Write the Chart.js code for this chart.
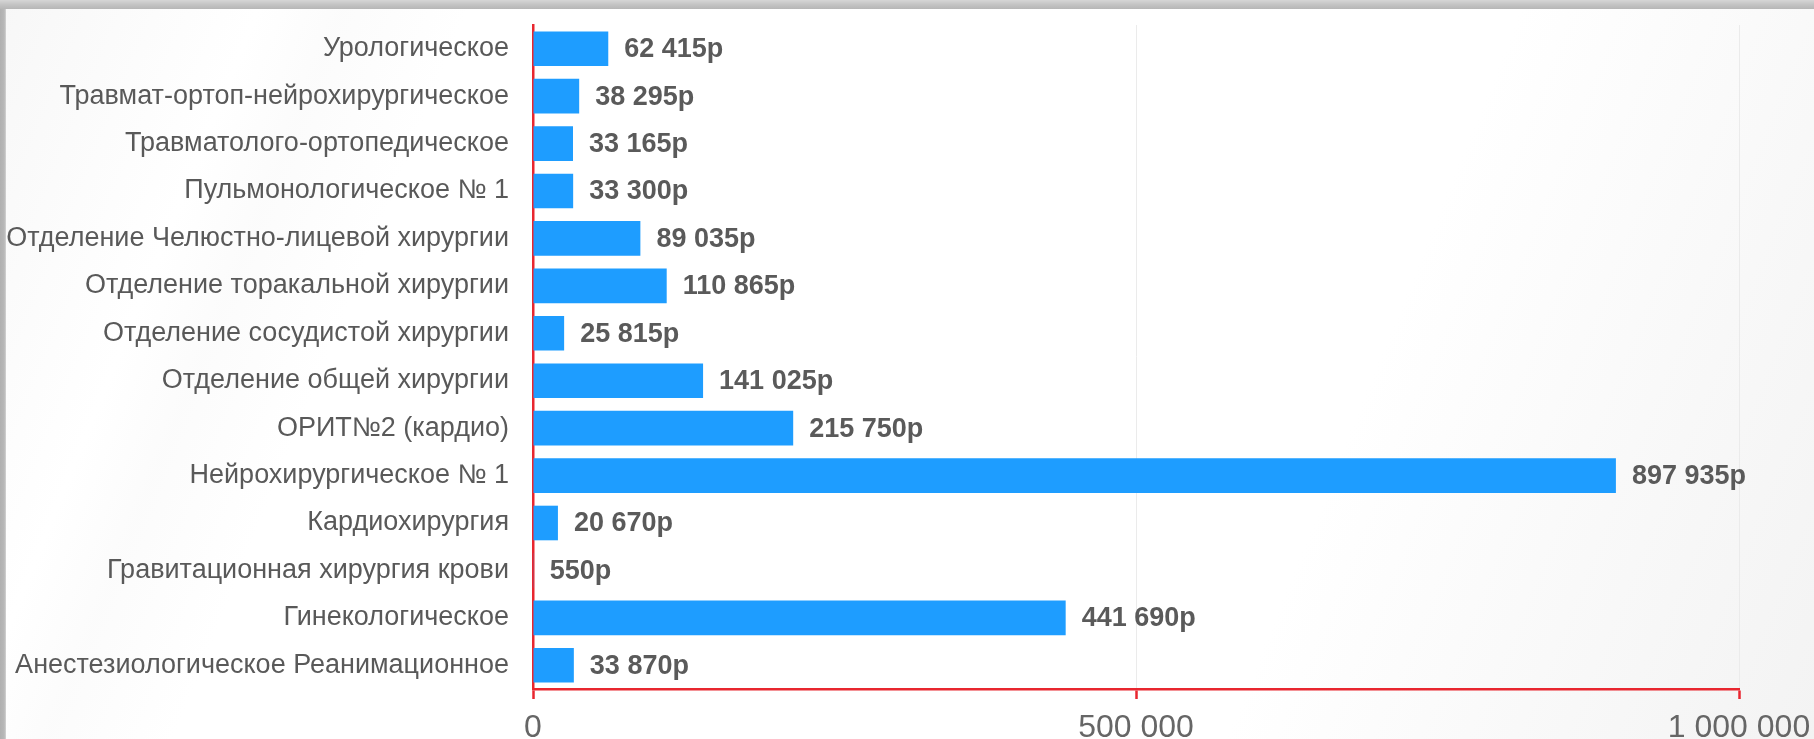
<html><head>
<meta charset="UTF-8">
<title>Отделения</title>
<script src="https://cdn.jsdelivr.net/npm/chart.js"></script>
<style>
html, body {
  margin: 0;
  padding: 0;
  width: 1814px;
  height: 739px;
  overflow: hidden;
  background: #b3b3b3;
}

.topbar {
  position: absolute;
  left: 0;
  top: 0;
  width: 1814px;
  height: 9px;
  background: linear-gradient(180deg, #d6d6d6 0%, #c4c4c4 50%, #b6b6b6 100%);
}

.leftbar {
  position: absolute;
  left: 0;
  top: 9px;
  width: 6px;
  height: 730px;
  background: linear-gradient(90deg, #b0b0b0 0%, #b8b8b8 70%, #d4d4d4 100%);
}

.panel {
  position: absolute;
  left: 6px;
  top: 9px;
  width: 1808px;
  height: 730px;
  background:
    linear-gradient(112deg, rgba(240,240,240,0.5) 0%, rgba(255,255,255,0) 12%, rgba(248,248,248,0.5) 16%, rgba(255,255,255,0) 22%),
    linear-gradient(112deg, #ffffff 0%, #ffffff 72%, #f8f8f8 88%, #f3f3f3 100%);
}

#chart {
  position: absolute;
  left: 0;
  top: 0;
}
</style>
</head>
<body>

<div class="topbar"></div>
<div class="leftbar"></div>
<div class="panel"></div>
<canvas id="chart" width="1814" height="739"></canvas>

<script>
const departments = [
  "Урологическое",
  "Травмат-ортоп-нейрохирургическое",
  "Травматолого-ортопедическое",
  "Пульмонологическое № 1",
  "Отделение Челюстно-лицевой хирургии",
  "Отделение торакальной хирургии",
  "Отделение сосудистой хирургии",
  "Отделение общей хирургии",
  "ОРИТ№2 (кардио)",
  "Нейрохирургическое № 1",
  "Кардиохирургия",
  "Гравитационная хирургия крови",
  "Гинекологическое",
  "Анестезиологическое Реанимационное"
];

const amounts = [62415, 38295, 33165, 33300, 89035, 110865, 25815, 141025, 215750, 897935, 20670, 550, 441690, 33870];

const axisMin = 0;
const axisMax = 1000000;
const axisStep = 500000;

const FONT = '"Liberation Sans", Arial, sans-serif';

const fmt = (n) => String(n).replace(/\B(?=(\d{3})+(?!\d))/g, ' ');

// подписи значений справа от столбиков
const valueLabels = {
  id: 'valueLabels',
  afterDatasetsDraw(chart) {
    const ctx = chart.ctx;
    const meta = chart.getDatasetMeta(0);
    ctx.save();
    ctx.font = 'bold 27px ' + FONT;
    ctx.fillStyle = '#5a5a5a';
    ctx.textAlign = 'left';
    ctx.textBaseline = 'middle';
    meta.data.forEach((bar, i) => {
      ctx.fillText(fmt(amounts[i]) + 'р', bar.x + 16, bar.y + 1);
    });
    ctx.restore();
  }
};

new Chart(document.getElementById('chart'), {
  type: 'bar',
  data: {
    labels: departments,
    datasets: [{
      data: amounts,
      backgroundColor: '#1e9dff',
      borderWidth: 0,
      categoryPercentage: 1,
      barPercentage: 0.73
    }]
  },
  options: {
    indexAxis: 'y',
    responsive: false,
    animation: false,
    devicePixelRatio: 1,
    layout: { padding: { top: 25, right: 75, left: 0, bottom: 0 } },
    plugins: {
      legend: { display: false },
      tooltip: { enabled: false }
    },
    scales: {
      x: {
        min: axisMin,
        max: axisMax,
        afterFit: (s) => { s.height = 50; s.paddingLeft = 0; s.paddingRight = 0; },
        ticks: {
          stepSize: axisStep,
          color: '#666666',
          font: { family: FONT, size: 32 },
          padding: 10,
          maxRotation: 0,
          callback: (v) => fmt(v)
        },
        grid: {
          color: (c) => c.index === 0 ? 'rgba(0,0,0,0)' : '#ebebeb',
          tickColor: '#e8262f',
          tickLength: 10,
          tickWidth: 2.5,
          lineWidth: 1
        },
        border: { color: '#e8262f', width: 2.5 }
      },
      y: {
        afterFit: (s) => { s.width = 533; s.paddingTop = 0; s.paddingBottom = 0; },
        ticks: {
          color: '#595959',
          font: { family: FONT, size: 27 },
          padding: 24,
          autoSkip: false
        },
        grid: { display: false, drawTicks: false },
        border: { color: '#e8262f', width: 2.5 }
      }
    }
  },
  plugins: [valueLabels]
});
</script>

</body></html>
